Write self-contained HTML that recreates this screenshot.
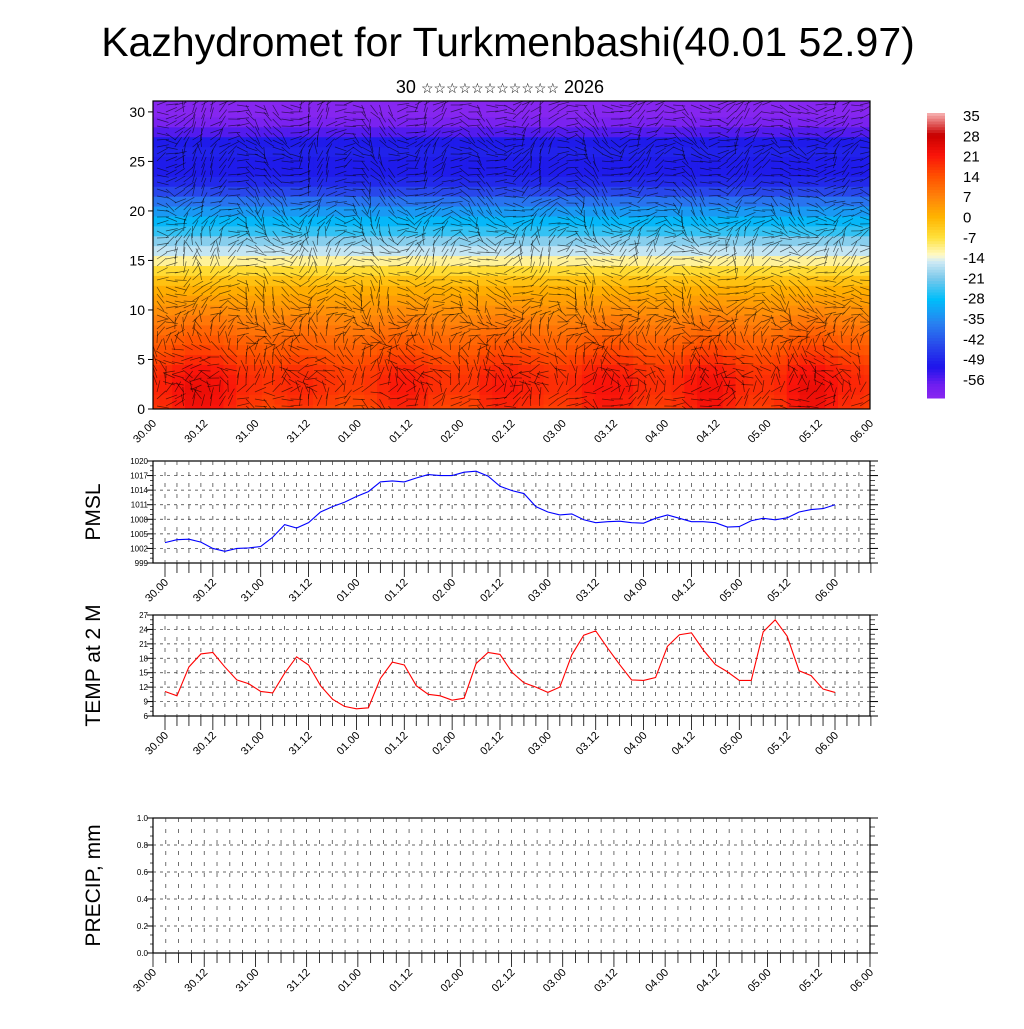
<!DOCTYPE html>
<html><head><meta charset="utf-8">
<style>
body{margin:0;background:#fff;}
svg text{font-family:"Liberation Sans",sans-serif;fill:#000;}
</style></head>
<body>
<svg id="c" width="1024" height="1024" xmlns="http://www.w3.org/2000/svg">
<g id="top"></g><g id="pm"></g><g id="tm"></g><g id="pr"></g><g id="cb"></g>
<text x="508" y="56" font-size="41" text-anchor="middle">Kazhydromet for Turkmenbashi(40.01 52.97)</text>
<text x="500" y="93" font-size="18" text-anchor="middle">30 <tspan font-size="14">☆☆☆☆☆☆☆☆☆☆☆</tspan> 2026</text>
</svg>
<script>
const NS="http://www.w3.org/2000/svg";
const timeLabels=["30.00","30.12","31.00","31.12","01.00","01.12","02.00","02.12","03.00","03.12","04.00","04.12","05.00","05.12","06.00"];
const levelTemps=[16,17,18,18,17,15,13,11,9,7,5,3,1,-2,-6,-11,-16,-20,-25,-29,-33,-38,-44,-48,-50,-50,-49,-50,-55,-59,-61,-61];
const surfAnom=[1,2,4,6,6,5,3,1,0,-1,0,1,1,0,-1,-2,-2,-1,1,3,3,2,0,-1,-1,-1,2,3,3,2,1,0,0,1,3,4,4,3,1,0,0,1,3,5,5,3,1,0,0,1,4,6,6,4,2,1,0];
const windDirLevel=[20,60,110,150,130,90,60,30,10,-20,-40,-30,-10,10,30,40,20,0,-10,-20,-30,-10,0,10,20,10,0,-10,0,10,0,0];
const windDirTime=[0,30,60,80,50,20,-10,-40,-60,-30,0,40,70,50,10,-20,-50,-70,-40,0,30,60,40,10,-20,-50,-30,0,20,50,70,40,0,-30,-60,-40,-10,20,50,30,0,-20,-50,-30,0,30,60,40,10,-20,-40,-20,0,20,40,20,0];
const pmsl=[1003.2,1003.8,1003.9,1003.3,1002.0,1001.4,1002.0,1002.1,1002.4,1004.3,1006.9,1006.2,1007.3,1009.5,1010.6,1011.5,1012.7,1013.7,1015.7,1015.9,1015.7,1016.5,1017.2,1017.0,1017.0,1017.7,1017.9,1016.9,1014.8,1013.9,1013.3,1010.6,1009.5,1008.9,1009.1,1007.9,1007.3,1007.5,1007.6,1007.3,1007.2,1008.2,1008.9,1008.2,1007.5,1007.5,1007.3,1006.4,1006.5,1007.7,1008.2,1007.9,1008.3,1009.5,1010.0,1010.2,1011.0];
const temp2m=[11.1,10.2,16.2,18.9,19.2,16.2,13.5,12.7,11.1,10.8,14.9,18.3,16.6,12.3,9.5,8.0,7.5,7.7,13.8,17.2,16.6,12.3,10.5,10.2,9.3,9.7,16.9,19.2,18.8,15.1,12.9,12.0,10.9,12.0,18.7,22.8,23.7,20.1,16.7,13.5,13.4,14.0,20.5,22.9,23.3,19.7,16.7,15.2,13.4,13.4,23.5,26.0,22.6,15.4,14.4,11.6,10.9];
const precip=[];
const pmTicks=[999,1002,1005,1008,1011,1014,1017,1020];
const tmTicks=[6,9,12,15,18,21,24,27];
const prTicks=[0.0,0.2,0.4,0.6,0.8,1.0];
const cbLabels=[35,28,21,14,7,0,-7,-14,-21,-28,-35,-42,-49,-56];
const topTicks=[0,5,10,15,20,25,30];

function el(p,t,a){const e=document.createElementNS(NS,t);for(const k in a)e.setAttribute(k,a[k]);p.appendChild(e);return e;}
const stops=[[-62,[140,40,240]],[-57,[110,30,240]],[-51,[30,20,235]],[-44,[40,70,235]],[-36,[40,130,240]],[-28,[0,190,250]],[-21,[120,200,235]],[-15,[210,235,245]],[-13,[255,250,200]],[-7,[255,225,60]],[0,[255,180,0]],[7,[255,130,10]],[14,[255,80,0]],[21,[250,20,10]],[28,[200,0,0]],[35,[245,170,170]]];
function col(v){if(v<=stops[0][0])return "rgb("+stops[0][1]+")";for(let i=1;i<stops.length;i++){if(v<=stops[i][0]){const a=stops[i-1],b=stops[i],f=(v-a[0])/(b[0]-a[0]);return "rgb("+a[1].map((c,j)=>Math.round(c+(b[1][j]-c)*f))+")";}}return "rgb("+stops[stops.length-1][1]+")";}

const T=document.getElementById('top');
const X0=153,X1=870,Y0=409,Y1=101;
const tx=i=>X0+(X1-X0)*i/56, ty=h=>Y0-(Y0-Y1)*h/31.1;
const nl=levelTemps.length;
for(let i=0;i<57;i++)for(let k=0;k<nl;k++){
  const w=Math.max(0,1-k/12);
  const v=levelTemps[k]+surfAnom[i]*w;
  const r=el(T,'rect',{x:tx(i)-(X1-X0)/112,y:ty(k+0.5),width:(X1-X0)/56+0.6,height:(Y0-Y1)/31.1+0.6,fill:col(v)});
  
  
}
const wg=el(T,'g',{stroke:'rgba(0,0,0,0.6)','stroke-width':0.7});
for(let i=0;i<80;i++)for(let k=0;k<44;k++){
  const ti=Math.min(56,Math.floor(i*57/80)),lk=Math.min(nl-1,Math.floor(k*31/44));
  const a=(windDirLevel[lk]+windDirTime[ti]+((i*37+k*53)%60)-30)*Math.PI/180;
  const x=X0+4+i*8.9,y=Y0-3-k*7,L=12;
  const ln=el(wg,'line',{x1:x,y1:y,x2:Math.min(X1,Math.max(X0,x+L*Math.cos(a))),y2:Math.max(Y1,y-L*Math.sin(a))});
  
  
}
el(T,'rect',{x:X0-8,y:Y1-3,width:8,height:Y0-Y1+20,fill:'#fff'});
el(T,'rect',{x:X1,y:Y1-3,width:10,height:Y0-Y1+20,fill:'#fff'});
el(T,'rect',{x:X0-8,y:Y0,width:X1-X0+20,height:10,fill:'#fff'});
el(T,'rect',{x:X0-8,y:Y1-4,width:X1-X0+20,height:4,fill:'#fff'});
el(T,'rect',{x:X0,y:Y1,width:X1-X0,height:Y0-Y1,fill:'none',stroke:'#000','stroke-width':1.2});
topTicks.forEach(h=>{el(T,'line',{x1:X0-5,x2:X0,y1:ty(h),y2:ty(h),stroke:'#000'});
  const t=el(T,'text',{x:X0-8,y:ty(h)+5,'font-size':14,'text-anchor':'end'});t.textContent=h;
  });
timeLabels.forEach((s,j)=>{const x=X0+(X1-X0)*j/14;
  const t=el(T,'text',{x:x+4,y:Y0+15,'font-size':11,'text-anchor':'end',transform:`rotate(-45 ${x+4} ${Y0+15})`});t.textContent=s;
  });

function panel(g,y0,y1,lo,hi,ticks,data,color,title,name,x30,x06,xl0,xl1){
  const G=document.getElementById(g);
  const py=v=>y1-(y1-y0)*(v-lo)/(hi-lo), px=i=>x30+(x06-x30)*i/56;
  el(G,'rect',{x:X0,y:y0,width:X1-X0,height:y1-y0,fill:'#fff',stroke:'#000','stroke-width':1.2});
  const gr=el(G,'g',{stroke:'#333','stroke-width':0.7,'stroke-dasharray':'3,4'});
  ticks.forEach(v=>{if(v>lo&&v<hi)el(gr,'line',{x1:X0,x2:X1,y1:py(v),y2:py(v)});});
  for(let i=0;i<=60;i++){const x=xl0+(xl1-xl0)*i/56;if(x>X0+2&&x<X1-2)el(gr,'line',{x1:x,x2:x,y1:y0,y2:y1,'stroke-dasharray':'4,7'});}
  for(let i=0;i<=60;i++){const x=xl0+(xl1-xl0)*i/56;if(x>=X0-1&&x<=X1+1)el(G,'line',{x1:x,x2:x,y1:y1,y2:y1+(i%4==0?14:10),stroke:'#000','stroke-width':0.8});}
  ticks.forEach((v,j)=>{el(G,'line',{x1:X0-6,x2:X0,y1:py(v),y2:py(v),stroke:'#000'});el(G,'line',{x1:X1,x2:X1+8,y1:py(v),y2:py(v),stroke:'#000'});
    if(j<ticks.length-1)for(let m=1;m<3;m++){const v2=v+(ticks[1]-ticks[0])*m/3;el(G,'line',{x1:X1,x2:X1+5,y1:py(v2),y2:py(v2),stroke:'#000','stroke-width':0.7});el(G,'line',{x1:X0-3,x2:X0,y1:py(v2),y2:py(v2),stroke:'#000','stroke-width':0.7});}
    const t=el(G,'text',{x:X0-5,y:py(v)+3,'font-size':8,'text-anchor':'end'});t.textContent=(hi<=1.01?v.toFixed(1):v);
    });
  timeLabels.forEach((s,j)=>{const x=xl0+(xl1-xl0)*j/14;if(x>X1+2)return;
    const t=el(G,'text',{x:x+4,y:y1+20,'font-size':11,'text-anchor':'end',transform:`rotate(-45 ${x+4} ${y1+20})`});t.textContent=s;
    });
  const yt=el(G,'text',{x:0,y:0,'font-size':21,'text-anchor':'middle',transform:`translate(100 ${(y0+y1)/2}) rotate(-90)`});yt.textContent=title;
  
  if(data.length){const p=el(G,'polyline',{points:data.map((v,i)=>px(i)+','+py(v)).join(' '),fill:'none',stroke:color,'stroke-width':1.1});
    }
}
panel('pm',461,563,999,1020,pmTicks,pmsl,'#0000ff','PMSL','pmsl',165,835,165,835);
panel('tm',615,716,6,27,tmTicks,temp2m,'#ff0000','TEMP at 2 M','temp',165,835,165,835);
panel('pr',818,953,0,1,prTicks,precip,'#00a','PRECIP, mm','precip',153,870,153,870);

const C=document.getElementById('cb');
const cy0=113,cy1=398;
for(let j=0;j<100;j++){const v=35-(97)*j/100;
  const r=el(C,'rect',{x:927,y:cy0+(cy1-cy0)*j/100,width:18,height:(cy1-cy0)/100+0.5,fill:col(v)});
  }
cbLabels.forEach((v,j)=>{const t=el(C,'text',{x:963,y:121+j*20.3,'font-size':15});t.textContent=v;
  });
</script>
</body></html>
